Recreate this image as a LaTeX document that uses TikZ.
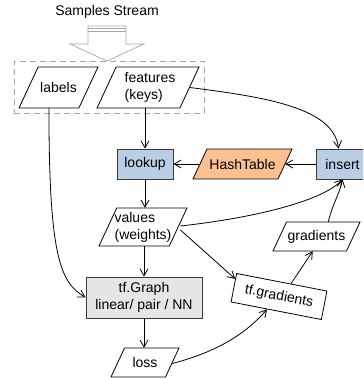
\documentclass[tikz,border=0pt]{standalone}
\usepackage{fontspec}
\setmainfont{Liberation Sans}
\usetikzlibrary{arrows.meta,calc}
\definecolor{boxblue}{HTML}{B9CDE5}
\definecolor{boxorange}{HTML}{FAC090}
\definecolor{boxgray}{HTML}{E6E6E6}
\definecolor{streamgray}{HTML}{A6A6A6}
\definecolor{edgegray}{HTML}{3A3A3A}
% parallelogram node: #1 name, #2 x, #3 y, #4 total width, #5 height, #6 fill, #7 text
\newcommand\pnode[7]{%
  \pgfmathsetmacro\pslant{#5*cot(65)}%
  \filldraw[paraline, fill=#6] (#2-#4/2,#3-#5/2) -- (#2+#4/2-\pslant,#3-#5/2)
     -- (#2+#4/2,#3+#5/2) -- (#2-#4/2+\pslant,#3+#5/2) -- cycle;
  \node[paratext, minimum width=#4-2*\pslant, minimum height=#5] (#1) at (#2,#3) {#7};
  \coordinate (#1-bot) at ($(#1.south)+(-\pslant/2,0)$);
  \coordinate (#1-top) at ($(#1.north)+(\pslant/2,0)$);
  \coordinate (#1-right) at ($(#1.east)+(\pslant/2,0)$);
  \coordinate (#1-left) at ($(#1.west)+(-\pslant/2,0)$);
}
\begin{document}
\begin{tikzpicture}[x=1pt,y=1pt,
  font=\fontsize{14}{17}\selectfont,
  arr/.style={draw=black, line width=0.8pt, -{Straight Barb[length=7pt,width=8pt]}},
  paraline/.style={draw=black, line width=0.8pt},
  paratext/.style={rectangle, inner sep=0pt, align=left},
  rbox/.style={draw=edgegray, line width=0.8pt, rectangle, inner sep=0pt, align=center},
  streamline/.style={draw=streamgray, line width=0.7pt},
  batchbox/.style={draw=streamgray, line width=0.8pt, dash pattern=on 6pt off 4pt, inner sep=0pt}]
\path[use as bounding box, clip] (0,0) rectangle (363,-379);

% title and stream arrow
\node (title) at (107,-12) {Samples Stream};
\draw[streamline] (88,-26) -- (88,-44) -- (70,-44) -- (107,-61) -- (144,-44) -- (126,-44) -- (126,-26) -- cycle;
\draw[streamline] (88,-28.5) -- (126,-28.5);
\draw[streamline] (88,-31) -- (126,-31);

% batch frame
\node[batchbox, minimum width=190, minimum height=52] (batch) at (109,-87) {};

% nodes
\pnode{labels}{58.5}{-87.5}{79}{41}{white}{labels}
\pnode{features}{148}{-87.5}{102}{41}{white}{\hspace*{4pt}features\\\hspace*{4pt}(keys)}
\node[rbox, fill=boxblue, minimum width=56, minimum height=30] (lookup) at (145,-164) {lookup};
\pnode{hash}{242.5}{-164}{99}{30}{boxorange}{HashTable}
\node[rbox, fill=boxblue, minimum width=53, minimum height=30] (insert) at (342.5,-164) {insert};
\pnode{values}{143}{-227}{88}{38}{white}{values\\(weights)}
\node[rbox, fill=boxgray, minimum width=116, minimum height=41] (tfgraph) at (144,-297.5) {tf.Graph\\linear/ pair / NN};
\pnode{loss}{145}{-362.5}{68}{29}{white}{loss}
\node[rbox, draw=black, rotate=-11, minimum width=92, minimum height=29] (tfgrad) at (279,-296.5) {tf.gradients};
\pnode{gradients}{316.5}{-236.5}{87}{29}{white}{gradients}

% connectors
\draw[arr] (labels-bot) .. controls +(0,-150) and +(-25,15) .. (tfgraph.west);
\draw[arr] (lookup.north |- features-bot) -- (lookup.north);
\draw[arr] (features-right) .. controls +(80,-10) and +(-5,40) .. ([xshift=-4pt]insert.north);
\draw[arr] (insert.west) -- (hash-right);
\draw[arr] (hash-left) -- (lookup.east);
\draw[arr] (lookup.south) -- (lookup.south |- values-top);
\draw[arr] (tfgraph.north |- values-bot) -- (tfgraph.north);
\draw[arr] ([yshift=1pt]values-right) .. controls +(81,9) and +(-18,-20) .. (insert.south);
\draw[arr] ([yshift=-3pt]values-right) -- ($(tfgrad.north west)!0.2!(tfgrad.south west)$);
\draw[arr] (tfgraph.south) -- (tfgraph.south |- loss-top);
\draw[arr] ([yshift=-1pt]loss-right) .. controls +(45,12) and +(-22,-25) .. ($(tfgrad.south west)!0.4!(tfgrad.south east)$);
\draw[arr] ($(tfgrad.north west)!0.6!(tfgrad.north east)$) -- ([xshift=3pt]gradients-bot);
\draw[arr] ([xshift=5pt]gradients-top) .. controls +(5,20) and +(-3,-15) .. (insert.south);
\end{tikzpicture}
\end{document}
